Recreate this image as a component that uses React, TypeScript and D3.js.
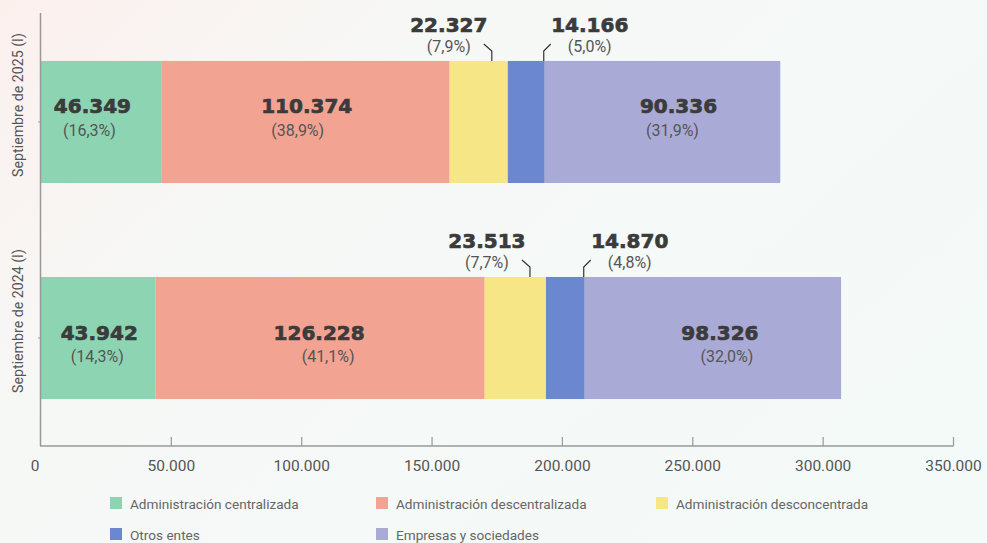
import React from "react";
import * as d3 from "d3";

const periods = ["Septiembre de 2025 (I)", "Septiembre de 2024 (I)"];
const seriesNames = [
  "Administración centralizada",
  "Administración descentralizada",
  "Administración desconcentrada",
  "Otros entes",
  "Empresas y sociedades",
];
const values2025 = [46349, 110374, 22327, 14166, 90336];
const values2024 = [43942, 126228, 23513, 14870, 98326];
const pct2025 = ["16,3%", "38,9%", "7,9%", "5,0%", "31,9%"];
const pct2024 = ["14,3%", "41,1%", "7,7%", "4,8%", "32,0%"];
const xTicks = [0, 50000, 100000, 150000, 200000, 250000, 300000, 350000];

// layout / style constants
const W = 987;
const H = 543;
const colors = ["#8dd4b2", "#f2a392", "#f7e685", "#6a87cf", "#aaaad6"];
const outsideSeries = [2, 3]; // labels placed above the bar with leader lines
// per-row nudges for the inside labels [number dx, pct dx]
const insideNudge = [
  [[-9, -12], [1, -8], [0, 0], [0, 0], [16, 10]],
  [[1, -1], [-1, 8], [0, 0], [0, 0], [7, 14]],
];
const insideDy = [[52, 75], [63, 85]];

const fmt = (v: number) => d3.format(",")(v).replace(/,/g, ".");

export default function App() {
  const x = d3.scaleLinear().domain([0, 350000]).range([41, 953.5]);
  const y = d3
    .scaleBand<string>()
    .domain(periods)
    .range([13, 447])
    .paddingInner(0.435)
    .paddingOuter(0.222);

  const rows = [values2025, values2024];
  const pcts = [pct2025, pct2024];
  const table = periods.map((p, i) => {
    const o: any = { period: p };
    seriesNames.forEach((s, j) => (o[s] = rows[i][j]));
    return o;
  });
  const stacked = d3.stack<any>().keys(seriesNames)(table);

  const numFont = "'DejaVu Sans', sans-serif";
  const txtFont = "Roboto, 'Noto Sans', sans-serif";
  const axisY = 446;
  const numStyle = {
    fontFamily: numFont,
    fontWeight: "bold" as const,
    fontSize: 20,
    fill: "#3b3b3b",
    stroke: "#3b3b3b",
    strokeWidth: 0.7,
  };

  return (
    <svg
      width={W}
      height={H}
      style={{ position: "absolute", left: 0, top: 0 }}
    >
      <defs>
        <linearGradient id="bg" x1="0" y1="0" x2="1" y2="0.6">
          <stop offset="0" stopColor="#fcf0ed" />
          <stop offset="0.35" stopColor="#f6f8f6" />
          <stop offset="1" stopColor="#f4faf8" />
        </linearGradient>
      </defs>
      <rect width={W} height={H} fill="url(#bg)" />

      {/* bars */}
      {stacked.map((layer, j) =>
        layer.map((d, i) => (
          <rect
            key={`${j}-${i}`}
            x={x(d[0])}
            y={y(periods[i])}
            width={x(d[1]) - x(d[0])}
            height={y.bandwidth()}
            fill={colors[j]}
          />
        ))
      )}

      {/* axes */}
      <line x1={40.5} x2={40.5} y1={13} y2={axisY} stroke="#999" strokeWidth={1.5} />
      <line x1={40} x2={953.5} y1={axisY} y2={axisY} stroke="#999" strokeWidth={1.5} />
      {xTicks.map((t) => (
        <g key={t}>
          {t > 0 && (
            <line x1={x(t)} x2={x(t)} y1={axisY - 9} y2={axisY} stroke="#999" strokeWidth={1.2} />
          )}
          <text
            x={t === 0 ? x(t) - 6 : x(t)}
            y={471}
            textAnchor="middle"
            fontFamily={txtFont}
            fontSize={15.5}
            fill="#555"
          >
            {fmt(t)}
          </text>
        </g>
      ))}
      {periods.map((p) => {
        const cy = (y(p) as number) + y.bandwidth() / 2;
        return (
          <g key={p}>
            <line x1={38} x2={40} y1={cy} y2={cy} stroke="#999" />
            <text
              transform={`translate(23,${cy - 17}) rotate(-90)`}
              textAnchor="middle"
              fontFamily={txtFont}
              fontSize={14.2}
              fill="#555"
            >
              {p}
            </text>
          </g>
        );
      })}

      {/* labels */}
      {stacked.map((layer, j) =>
        layer.map((d, i) => {
          const top = y(periods[i]) as number;
          const x0 = x(d[0]);
          const x1 = x(d[1]);
          const val = rows[i][j];
          const pct = pcts[i][j];
          if (outsideSeries.includes(j)) {
            const isLeft = j === 2;
            const lx = isLeft ? x1 - 16 : x1 - 1;
            const tx = isLeft ? lx - 43 : lx + 46;
            const path = isLeft
              ? `M${lx - 8},${top - 17}L${lx},${top - 10}L${lx},${top}`
              : `M${lx + 7},${top - 17}L${lx},${top - 10}L${lx},${top}`;
            return (
              <g key={`l${j}-${i}`}>
                <path d={path} fill="none" stroke="#333" strokeWidth={1.2} />
                <text x={tx} y={top - 29} textAnchor="middle" {...numStyle}>
                  {fmt(val)}
                </text>
                <text x={tx} y={top - 9} textAnchor="middle" fontFamily={txtFont} fontSize={16} fill="#555">
                  {`(${pct})`}
                </text>
              </g>
            );
          }
          const cx = (x0 + x1) / 2;
          const [ndx, pdx] = insideNudge[i][j];
          return (
            <g key={`l${j}-${i}`}>
              <text x={cx + ndx} y={top + insideDy[i][0]} textAnchor="middle" {...numStyle}>
                {fmt(val)}
              </text>
              <text x={cx + pdx} y={top + insideDy[i][1]} textAnchor="middle" fontFamily={txtFont} fontSize={16} fill="#555">
                {`(${pct})`}
              </text>
            </g>
          );
        })
      )}

      {/* legend */}
      {seriesNames.map((s, j) => {
        const col = j % 3;
        const row = Math.floor(j / 3);
        const lx = [110, 376, 656][col];
        const ly = [497, 528][row];
        return (
          <g key={s}>
            <rect x={lx} y={ly} width={12} height={12} fill={colors[j]} />
            <text x={lx + 20} y={ly + 11.5} fontFamily={txtFont} fontSize={13.6} fill="#666">
              {s}
            </text>
          </g>
        );
      })}
    </svg>
  );
}
